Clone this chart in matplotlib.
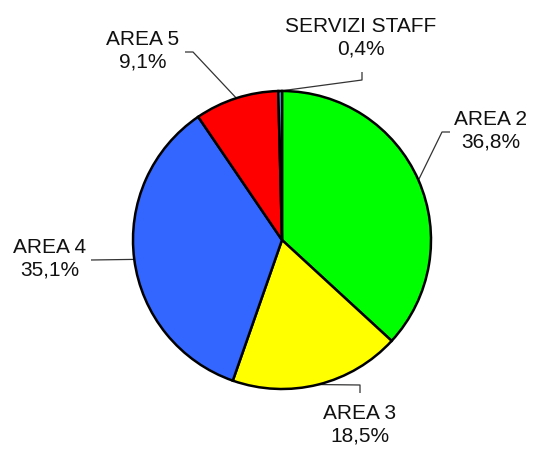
"""
Pie chart of the share per area.
"""
import numpy as np
import matplotlib.pyplot as plt

plt.rcParams['font.family'] = ['Liberation Sans', 'DejaVu Sans']

labels = ['AREA 2', 'AREA 3', 'AREA 4', 'AREA 5', 'SERVIZI STAFF']
values = [36.8, 18.5, 35.1, 9.1, 0.4]
colors = ['#00ff00', '#ffff00', '#3366ff', '#ff0000', '#33ccff']

# layout in pixels (image coordinates, y measured from the top)
W, H = 534, 450
center = (282, 240)
radius = 149
text_pos = [(491, 131), (360, 425), (50, 259), (143, 51), (361, 38)]
line_end = [(450, 132), (360, 393), (91, 260), (185, 52), (362, 72)]
line_elbow = [(442, 132), (360, 385), (91, 260), (193, 52), (362, 80)]

fig = plt.figure(figsize=(W / 100, H / 100), dpi=100)
ax = fig.add_axes([0, 0, 1, 1])

wedges, _ = ax.pie(values, colors=colors, startangle=90, counterclock=False,
                   center=(center[0], H - center[1]), radius=radius,
                   wedgeprops=dict(edgecolor='black', linewidth=1.8))

for w, lab, val, tp, le, lb in zip(wedges, labels, values, text_pos,
                                   line_end, line_elbow):
    ang = np.deg2rad((w.theta1 + w.theta2) / 2)
    ax_x = center[0] + radius * np.cos(ang)
    ax_y = (H - center[1]) + radius * np.sin(ang)
    ax.plot([le[0], lb[0], ax_x], [H - le[1], H - lb[1], ax_y],
            color='#333333', lw=0.9, solid_capstyle='butt', zorder=0)
    txt = '%s\n%s%%' % (lab, ('%.1f' % val).replace('.', ','))
    ax.text(tp[0], H - tp[1], txt, ha='center', va='center', fontsize=15,
            linespacing=1.25, color='#111111')

ax.set_xlim(0, W)
ax.set_ylim(0, H)
ax.set_aspect('equal')
ax.axis('off')

fig.savefig('out.png', dpi=100, facecolor='white')
